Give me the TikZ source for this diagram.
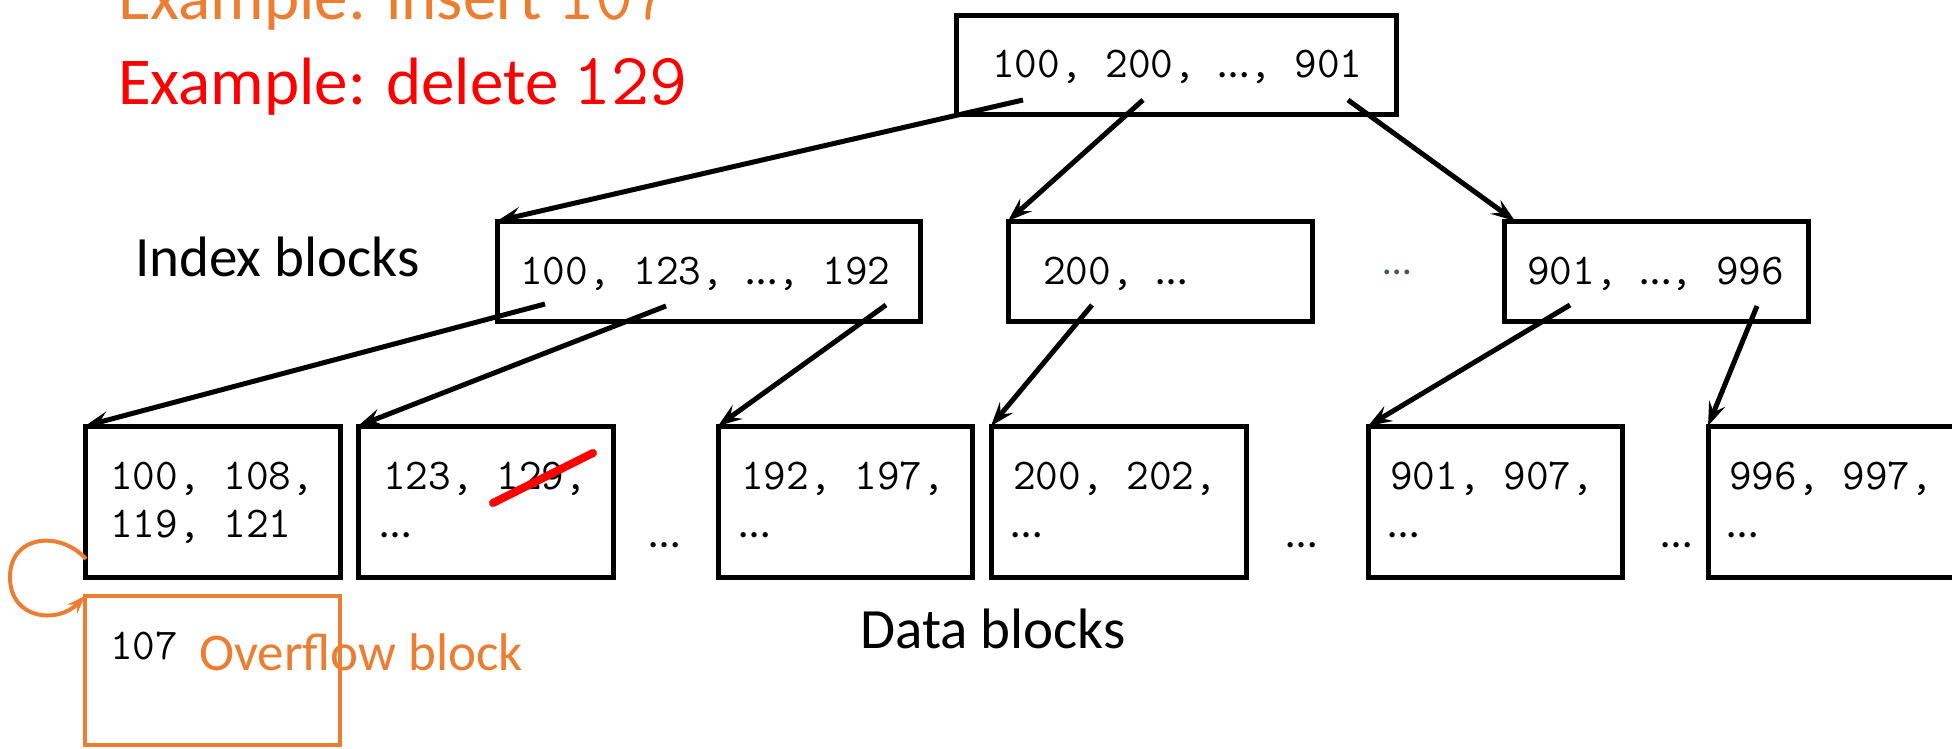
\documentclass[tikz,border=0pt]{standalone}
\usepackage{fontspec}
\setmainfont{Carlito}
\newfontfamily\carl{Carlito}
\usetikzlibrary{arrows.meta}
\definecolor{ovorange}{HTML}{ED7D31}
\definecolor{dotgray}{HTML}{44546A}
\newcommand{\el}{{\carl …}}
\tikzset{
  blk/.style={draw=black, line width=5pt, anchor=north west, inner sep=0pt, outer sep=0pt},
  ovblk/.style={draw=ovorange, line width=4pt, anchor=north west, inner sep=0pt, outer sep=0pt},
  mono/.style={font=\fontsize{44}{48}\selectfont\ttfamily, anchor=base west, inner sep=0pt},
  lbl/.style={font=\fontsize{57}{60}\selectfont, anchor=base west, inner sep=0pt},
  big/.style={font=\fontsize{67}{72}\selectfont, anchor=base west, inner sep=0pt},
  gap/.style={font=\fontsize{44}{48}\selectfont, inner sep=0pt},
  link/.style={line width=5pt, -{Stealth[length=24pt,width=17pt,inset=9pt]}},
}
\begin{document}
\begin{tikzpicture}[x=1pt,y=-1pt]
\useasboundingbox[fill=white] (0,0) rectangle (1952,749);

% titles
\node[big, text=ovorange] (ex1) at (118,20) {Example: insert {\fontsize{74}{78}\selectfont\ttfamily 107}};
\node[big, text=red] (ex2) at (118,105) {Example: delete {\fontsize{74}{78}\selectfont\ttfamily 129}};

% root
\node[blk, minimum width=440pt, minimum height=99pt] (root) at (956,16) {};
\node[mono] (rootT) at (992,78) {100, 200, \el, 901};

% index blocks
\node[blk, minimum width=423pt, minimum height=100pt] (i1) at (497,221) {};
\node[blk, minimum width=304pt, minimum height=100pt] (i2) at (1008,221) {};
\node[blk, minimum width=304pt, minimum height=100pt] (i3) at (1504,221) {};
\node[mono] (i1T) at (520,284) {100, 123, \el, 192};
\node[mono] (i2T) at (1043,284) {200, \el};
\node[mono] (i3T) at (1527,284) {901, \el, 996};
\node[gap, text=dotgray, font=\fontsize{40}{44}\selectfont] (idots) at (1397,272) {…};
\node[lbl] (idxlbl) at (135,276) {Index blocks};

% data blocks
\node[blk, minimum width=255pt, minimum height=151pt] (d1) at (85,426) {};
\node[blk, minimum width=255pt, minimum height=151pt] (d2) at (358,426) {};
\node[blk, minimum width=254pt, minimum height=151pt] (d3) at (718,426) {};
\node[blk, minimum width=255pt, minimum height=151pt] (d4) at (991,426) {};
\node[blk, minimum width=254pt, minimum height=151pt] (d5) at (1368,426) {};
\node[blk, minimum width=262pt, minimum height=151pt] (d6) at (1708,426) {};

\node[mono] (d1a) at (110,489) {100, 108,};
\node[mono] (d1b) at (110,537) {119, 121};
\node[mono] (d2a) at (383,489) {123, 129,};
\node[mono] (d2b) at (380,537) {\el};
\node[mono] (d3a) at (741,489) {192, 197,};
\node[mono] (d3b) at (739,537) {\el};
\node[mono] (d4a) at (1013,489) {200, 202,};
\node[mono] (d4b) at (1011,537) {\el};
\node[mono] (d5a) at (1390,489) {901, 907,};
\node[mono] (d5b) at (1388,537) {\el};
\node[mono] (d6a) at (1729,489) {996, 997,};
\node[mono] (d6b) at (1727,537) {\el};

\node[gap] (g1) at (665,545) {…};
\node[gap] (g2) at (1302,545) {…};
\node[gap] (g3) at (1677,545) {…};
\node[lbl] (datalbl) at (860,648) {Data blocks};

% strike-through of 129
\coordinate (s1) at (493,503);
\coordinate (s2) at (593,453);
\draw[red, line width=8pt, line cap=round] (s1) -- (s2);

% overflow block
\node[ovblk, minimum width=255pt, minimum height=149pt] (ov) at (85,596) {};
\node[mono] (ovT) at (110,659) {107};
\node[lbl, text=ovorange, font=\fontsize{53}{56}\selectfont] (ovlbl) at (199,670) {Overflow block};
\coordinate (ls) at (86,559);
\draw[ovorange, line width=4pt, -{Stealth[length=18pt,width=13pt,inset=6pt]}]
  (ls) .. controls (60,530) and (10,535) .. (10,577)
       .. controls (10,620) and (58,624) .. (ov.north west);

% connectors
\coordinate (ra1) at (1023,100);
\coordinate (ra2) at (1143,100);
\coordinate (ra3) at (1348,100);
\coordinate (i3in) at (1515,221);
\coordinate (ia1) at (545,304);
\coordinate (ia2) at (666,306);
\coordinate (ia3) at (886,305);
\coordinate (ib1) at (1092,305);
\coordinate (ic1) at (1570,305);
\coordinate (ic2) at (1757,306);
\draw[link] (ra1) -- (i1.north west);
\draw[link] (ra2) -- (i2.north west);
\draw[link] (ra3) -- (i3in);
\draw[link] (ia1) -- (d1.north west);
\draw[link] (ia2) -- (d2.north west);
\draw[link] (ia3) -- (d3.north west);
\draw[link] (ib1) -- (d4.north west);
\draw[link] (ic1) -- (d5.north west);
\draw[link] (ic2) -- (d6.north west);
\end{tikzpicture}
\end{document}
